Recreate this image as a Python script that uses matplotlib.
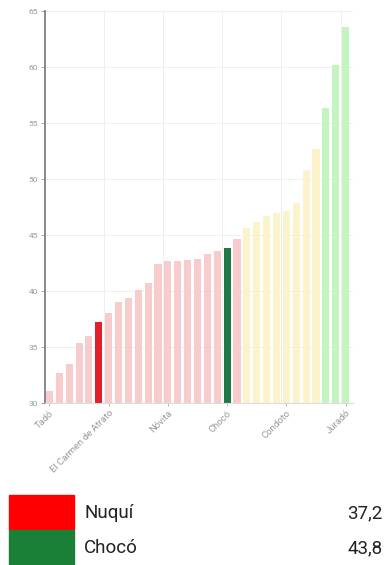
import numpy as np
import matplotlib
matplotlib.use("Agg")
import matplotlib.pyplot as plt
from matplotlib.patches import Rectangle

plt.rcParams["font.family"] = ["Roboto", "DejaVu Sans"]

# Values, sorted ascending (31 bars)
values = [31.1, 32.7, 33.5, 35.4, 36.0, 37.2, 38.0, 39.0, 39.4, 40.1, 40.7,
          42.4, 42.7, 42.7, 42.8, 42.9, 43.3, 43.6, 43.8, 44.6, 45.6, 46.2,
          46.7, 47.0, 47.1, 47.9, 50.8, 52.7, 56.3, 60.2, 63.6]
# colour group per bar: p=pink, y=yellow, g=light green, r=highlight red, d=highlight green
groups = list("pppppr" + "pppppppppppp" + "dp" + "yyyyyyyy" + "ggg")
tick_labels = ["Tadó", "El Carmen de Atrato", "Nóvita", "Chocó", "Condoto", "Juradó"]
legend_names = ["Nuquí", "Chocó"]
legend_values = ["37,2", "43,8"]

palette = {"p": "#f8cccc", "y": "#fbf3cc", "g": "#c4f5c0",
           "r": "#e0202a", "d": "#1f7a45"}
legend_colors = ["#ff0000", "#1a8038"]

fig = plt.figure(figsize=(3.9, 5.65), dpi=100)
ax = fig.add_axes([45 / 390, 1 - 403 / 565, 308 / 390, 392 / 565])

x = np.arange(len(values))
ax.bar(x, values, width=0.72, color=[palette[g] for g in groups], zorder=2)

ax.set_ylim(30, 65)
ax.set_xlim(-0.45, 30.75)
ax.set_yticks(np.arange(30, 66, 5))
ax.tick_params(axis="y", labelsize=6, colors="#999999", length=3, width=0.6, pad=2)
ax.set_xticks(x[::6])
ax.set_xticklabels(tick_labels, rotation=45, ha="right", rotation_mode="anchor")
ax.tick_params(axis="x", labelsize=6.8, colors="#999999", length=2, width=0.5, pad=2)

ax.yaxis.grid(True, color="#ececec", linewidth=0.6, zorder=0)
for pos in np.arange(5.5, len(values), 6):
    ax.axvline(pos, color="#ececec", linewidth=0.6, zorder=0)

for side in ["top", "right"]:
    ax.spines[side].set_visible(False)
ax.spines["left"].set_color("#888888")
ax.spines["left"].set_linewidth(1.4)
ax.spines["bottom"].set_color("#dddddd")
ax.spines["bottom"].set_linewidth(0.8)

# legend boxes below the chart
for i, (name, val, col) in enumerate(zip(legend_names, legend_values, legend_colors)):
    top = 495 + i * 35
    fig.patches.append(Rectangle((9 / 390, 1 - (top + 35) / 565), 65 / 390, 35 / 565,
                                 transform=fig.transFigure, color=col))
    yc = 1 - (top + 18) / 565
    fig.text(84 / 390, yc, name, fontsize=13.5, va="center", ha="left", color="#222222")
    fig.text(383 / 390, yc, val, fontsize=13.5, va="center", ha="right", color="#222222")

fig.savefig("out.png", dpi=100)
